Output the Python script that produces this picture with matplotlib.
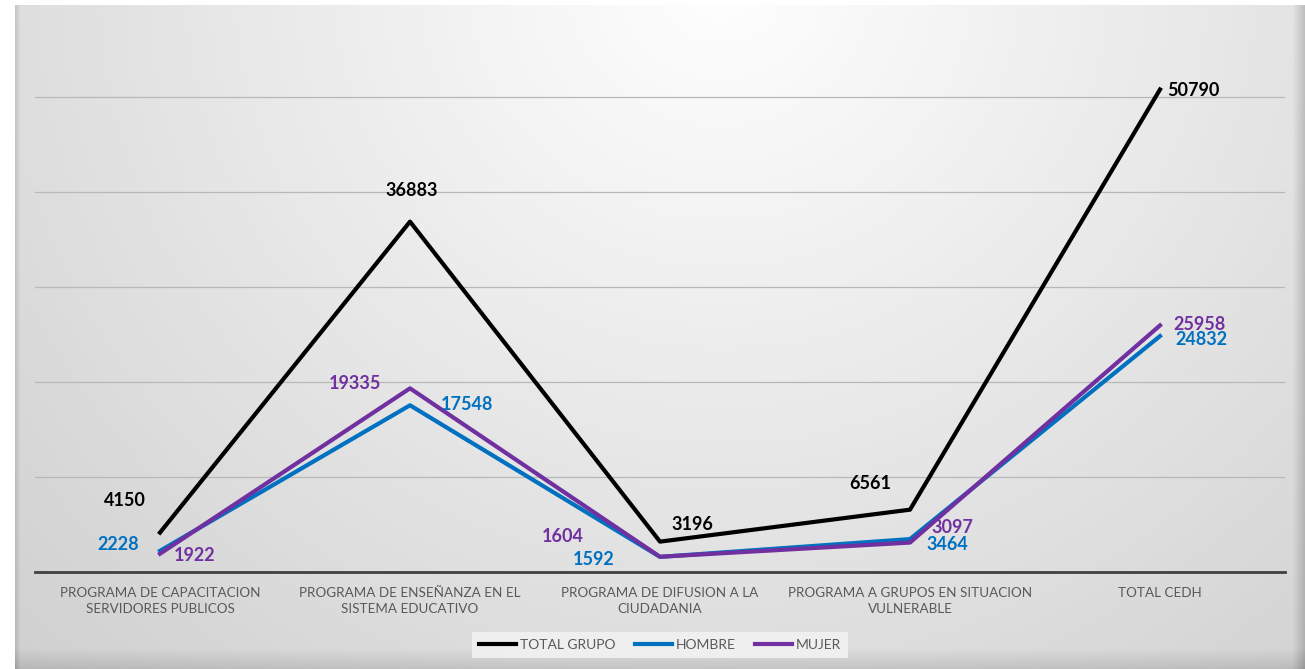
import numpy as np
import matplotlib.pyplot as plt

categorias = ['PROGRAMA DE CAPACITACION\nSERVIDORES PUBLICOS',
              'PROGRAMA DE ENSEÑANZA EN EL\nSISTEMA EDUCATIVO',
              'PROGRAMA DE DIFUSION A LA\nCIUDADANIA',
              'PROGRAMA A GRUPOS EN SITUACION\nVULNERABLE',
              'TOTAL CEDH']
total_grupo = [4150, 36883, 3196, 6561, 50790]
hombre = [2228, 17548, 1592, 3464, 24832]
mujer = [1922, 19335, 1604, 3097, 25958]

# desplazamiento de las etiquetas (pixeles)
off_total = [(-35, 32), (2, 31), (32, 17), (-40, 26), (33, -1)]
off_hombre = [(-42, 6), (57, 1), (-66, -3), (37, -5), (41, -3)]
off_mujer = [(35, -2), (-55, 5), (-97, 20), (42, 15), (40, 1)]

plt.rcParams['font.family'] = ['Lato', 'DejaVu Sans']

W, H = 1305, 669
fig = plt.figure(figsize=(W / 100, H / 100), dpi=100)

# fondo con degradado
yy, xx = np.mgrid[0:H, 0:W]
d = np.sqrt(((xx - 720) / 1.0) ** 2 + ((yy + 20) / 0.95) ** 2)
g = 255 - 46 * np.clip(d / 980, 0, 1.2)
# biseles
g = np.where(xx > 1292, g - (xx - 1292) * 3.0, g)
g = np.where(yy > 648, g - (yy - 648) * 1.2, g)
g = np.where(xx < 20, g - (20 - xx) * 5, g)
g = np.where((xx < 15) | (yy < 5), 255, g)
g = np.clip(g, 0, 255) / 255.0
bg = np.dstack([g, g, g])
ax_bg = fig.add_axes([0, 0, 1, 1], zorder=-1)
ax_bg.imshow(bg, aspect='auto', extent=(0, W, H, 0))
ax_bg.axis('off')

ax = fig.add_axes([35 / W, 1 - 572 / H, 1250 / W, 570 / H])
ax.set_facecolor('none')
x = np.arange(len(categorias))

ax.plot(x, total_grupo, color='black', lw=3, label='TOTAL GRUPO', zorder=3)
ax.plot(x, hombre, color='#0070C0', lw=3, label='HOMBRE', zorder=4)
ax.plot(x, mujer, color='#7030A0', lw=3, label='MUJER', zorder=5)

for serie, offs, col in [(total_grupo, off_total, 'black'),
                         (hombre, off_hombre, '#0070C0'),
                         (mujer, off_mujer, '#7030A0')]:
    for i, v in enumerate(serie):
        ax.annotate(str(v), (x[i], v), xytext=offs[i], textcoords='offset pixels',
                    ha='center', va='center', fontsize=13, fontweight='bold',
                    color=col, zorder=6)

ax.set_xlim(-0.5, 4.5)
ax.set_ylim(0, 60000)
ax.set_yticks([10000, 20000, 30000, 40000, 50000])
ax.yaxis.grid(True, color='#b8b8b8', lw=0.9)
ax.set_axisbelow(True)
ax.tick_params(axis='y', left=False, labelleft=False)
ax.set_xticks(x)
ax.set_xticklabels(categorias, fontsize=9.7, color='#595959', linespacing=1.4)
ax.tick_params(axis='x', length=0, pad=11)
for s in ['top', 'right', 'left']:
    ax.spines[s].set_visible(False)
ax.spines['bottom'].set_color('#404040')
ax.spines['bottom'].set_linewidth(2)

leg = fig.legend(loc='center', bbox_to_anchor=(660 / W, 1 - 645 / H), ncol=3,
                 fontsize=10, frameon=True, fancybox=False, handlelength=2.7,
                 handletextpad=0.25, columnspacing=1.4, borderpad=0.5)
leg.get_frame().set_facecolor('#f2f2f2')
leg.get_frame().set_edgecolor('none')
leg.get_frame().set_alpha(0.9)
for t in leg.get_texts():
    t.set_color('#595959')

fig.savefig('out.png', dpi=100)
